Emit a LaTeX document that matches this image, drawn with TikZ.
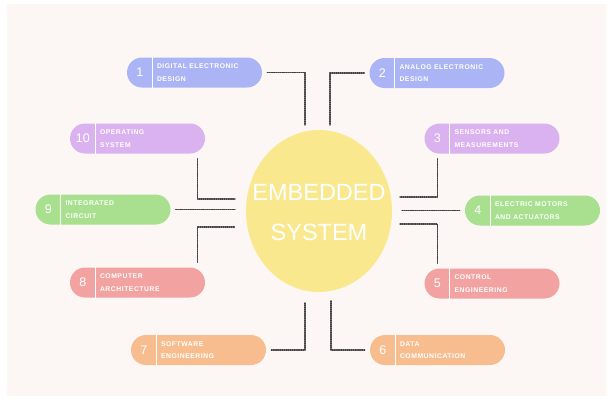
\documentclass[tikz,border=0pt]{standalone}
\usepackage{fontspec}
\setmainfont{Liberation Sans}
\usepackage{tikz}
\definecolor{fcf8f5}{rgb}{0.99,0.97,0.96}
\definecolor{aab4f4}{rgb}{0.67,0.71,0.96}
\definecolor{dbb3ef}{rgb}{0.86,0.70,0.94}
\definecolor{a9e190}{rgb}{0.66,0.88,0.56}
\definecolor{f3a2a1}{rgb}{0.95,0.64,0.63}
\definecolor{f8bc8f}{rgb}{0.97,0.74,0.56}
\definecolor{fbe98f}{rgb}{0.98,0.91,0.56}
\definecolor{qqwuqq}{rgb}{0.25,0.25,0.25}
\newfontfamily\spacedfont[LetterSpace=8]{Liberation Sans}
\tikzset{
  topicbox/.style={rectangle,rounded corners=15pt,minimum width=135pt,minimum height=30pt,inner sep=0pt},
  numtext/.style={text=white,font=\fontsize{12.5}{12.5}\selectfont,inner sep=0pt},
  labeltext/.style={text=white,align=left,inner sep=0pt,font=\spacedfont\bfseries\fontsize{6.8}{12.5}\selectfont},
  divider/.style={white,line width=0.6pt},
  link/.style={qqwuqq,densely dotted,line width=1.1pt,shorten <=5pt},
  hubtext/.style={text=white,align=center,inner sep=0pt,font=\fontsize{23.5}{40}\selectfont}
}
\newcommand{\topic}[6]{% name, x, y, colour, number, text
\node[topicbox,fill=#4] (#1) at (#2,#3) {};
\node[numtext] (#1n) at ([xshift=13pt]#1.west) {#5};
\draw[divider] ([xshift=25pt]#1.north west) -- ([xshift=25pt]#1.south west);
\node[labeltext,anchor=west] (#1t) at ([xshift=30pt]#1.west) {#6};
}
\begin{document}
\begin{tikzpicture}[line cap=round,line join=round,x=1pt,y=-1pt]
\useasboundingbox (0,0) rectangle (613,402);
\fill[fcf8f5] (7,4) rectangle (606,396);

\fill[fbe98f] (319,211) ellipse [x radius=73pt,y radius=81pt];
\node[hubtext] (hub) at (319,213) {EMBEDDED\\SYSTEM};

\topic{b1}{194.5}{72.5}{aab4f4}{1}{DIGITAL ELECTRONIC\\DESIGN}
\topic{b2}{437}{73}{aab4f4}{2}{ANALOG ELECTRONIC\\DESIGN}
\topic{b10}{137.5}{138.5}{dbb3ef}{10}{OPERATING\\SYSTEM}
\topic{b3}{492}{138.5}{dbb3ef}{3}{SENSORS AND\\MEASUREMENTS}
\topic{b9}{103}{209.5}{a9e190}{9}{INTEGRATED\\CIRCUIT}
\topic{b4}{532.5}{210.5}{a9e190}{4}{ELECTRIC MOTORS\\AND ACTUATORS}
\topic{b8}{137.5}{282.5}{f3a2a1}{8}{COMPUTER\\ARCHITECTURE}
\topic{b5}{492}{283.5}{f3a2a1}{5}{CONTROL\\ENGINEERING}
\topic{b7}{198.5}{350}{f8bc8f}{7}{SOFTWARE\\ENGINEERING}
\topic{b6}{437.5}{350}{f8bc8f}{6}{DATA\\COMMUNICATION}

% free ends next to the hub
\coordinate (e1) at (305,125);
\coordinate (e2) at (330,125);
\coordinate (e10) at (235,199);
\coordinate (e9) at (235,209.5);
\coordinate (e8) at (235,227);
\coordinate (e3) at (400,197);
\coordinate (e4) at (402,210.5);
\coordinate (e5) at (400,224);
\coordinate (e7) at (305,302);
\coordinate (e6) at (331,300);

\draw[link] (b1.east) -| (e1);
\draw[link] (b2.west) -| (e2);
\draw[link] ([xshift=-8pt]b10.south east) |- (e10);
\draw[link] (b9.east) -- (e9);
\draw[link] ([xshift=-8pt]b8.north east) |- (e8);
\draw[link] ([xshift=13pt]b3.south west) |- (e3);
\draw[link] (b4.west) -- (e4);
\draw[link] ([xshift=13pt]b5.north west) |- (e5);
\draw[link] (b7.east) -| (e7);
\draw[link] (b6.west) -| (e6);
\end{tikzpicture}
\end{document}
